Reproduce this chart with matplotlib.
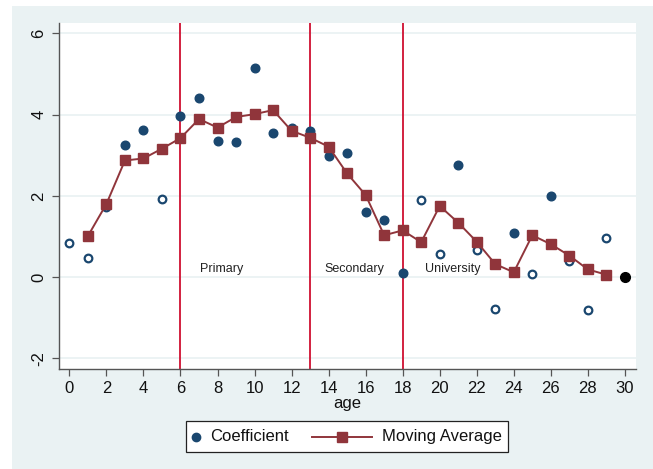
import matplotlib
matplotlib.use("Agg")
import matplotlib.pyplot as plt
from matplotlib.patches import Rectangle
from matplotlib.lines import Line2D
import numpy as np

plt.rcParams['font.family'] = ['Liberation Sans', 'DejaVu Sans']

# Data
ages = list(range(0, 30))
coef = [0.83, 0.46, 1.72, 3.25, 3.63, 1.92, 3.97, 4.41, 3.35, 3.32,
        5.14, 3.55, 3.68, 3.60, 2.99, 3.05, 1.61, 1.41, 0.11, 1.91,
        0.58, 2.77, 0.68, -0.78, 1.08, 0.07, 1.99, 0.40, -0.80, 0.97]
significant = [False, False, False, True, True, False, True, True, True, True,
               True, True, True, True, True, True, True, True, True, False,
               False, True, False, False, True, False, True, False, False, False]
ref_age = [30]
ref_coef = [0.0]
ma_ages = list(range(1, 30))
ma = [1.01, 1.80, 2.87, 2.92, 3.16, 3.42, 3.89, 3.68, 3.94, 4.01,
      4.11, 3.60, 3.43, 3.21, 2.55, 2.02, 1.03, 1.15, 0.86, 1.75,
      1.34, 0.87, 0.32, 0.12, 1.03, 0.81, 0.53, 0.19, 0.06]
cutoffs = [6, 13, 18]
stage_labels = ["Primary", "Secondary", "University"]
stage_x = [7.05, 13.75, 19.2]
stage_y = [0.05, 0.05, 0.05]
xticks = list(range(0, 31, 2))
yticks = [-2, 0, 2, 4, 6]
legend_labels = ['Coefficient', 'Moving Average']

navy = '#1A476F'
maroon = '#90353B'
redline = '#D2203F'
bg = '#EAF2F3'

W, H = 653, 469
fig = plt.figure(figsize=(W / 100, H / 100), dpi=100)
fig.patch.set_facecolor('white')
fig.patches.append(Rectangle((12 / W, 0), 1 - 12 / W, 1 - 6 / H,
                             transform=fig.transFigure, facecolor=bg,
                             edgecolor='none', zorder=-10))

ax = fig.add_axes([59 / W, 1 - 369 / H, (636 - 59) / W, (369 - 22.7) / H])
ax.set_facecolor('white')
ax.set_xlim(-0.56, 30.6)
ax.set_ylim(-2.26, 6.26)

for yt in yticks:
    ax.axhline(yt, color=bg, lw=1.3, zorder=0)

for c in cutoffs:
    ax.axvline(c, color=redline, lw=1.4, zorder=1)

a = np.array(ages)
cf = np.array(coef)
sg = np.array(significant)
ax.plot(a[sg], cf[sg], 'o', color=navy, ms=6.2, mec=navy, zorder=3)
ax.plot(a[~sg], cf[~sg], 'o', mfc='white', mec=navy, mew=1.6, ms=5.5, zorder=3)
ax.plot(ref_age, ref_coef, 'o', color='black', ms=7, zorder=3)
ax.plot(ma_ages, ma, '-s', color=maroon, lw=1.4, ms=7, mec=maroon, zorder=4)

for lab, x, y in zip(stage_labels, stage_x, stage_y):
    ax.text(x, y, lab, fontsize=9, ha='left', va='bottom', color='#222222', zorder=5)

ax.set_xticks(xticks)
ax.set_yticks(yticks)
ax.set_yticklabels([str(v) for v in yticks], rotation=90, va='center')
ax.tick_params(axis='both', labelsize=12, length=5, width=0.9, color='#555555', labelcolor='#111111')
ax.tick_params(axis='y', pad=4)
for s in ['top', 'right']:
    ax.spines[s].set_visible(False)
for s in ['left', 'bottom']:
    ax.spines[s].set_color('#555555')
    ax.spines[s].set_linewidth(1.0)
ax.set_xlabel('age', fontsize=12, labelpad=0, color='#111111')

# Legend (drawn in figure pixel coordinates, Stata style)
def fx(px):
    return px / W

def fy(py):
    return 1 - py / H

ly = 436.5
fig.patches.append(Rectangle((fx(186), fy(452)), fx(508) - fx(186), fy(421) - fy(452),
                             transform=fig.transFigure, facecolor='white',
                             edgecolor='#222222', lw=0.9, zorder=5))
fig.lines.append(Line2D([fx(196)], [fy(ly)], transform=fig.transFigure, ls='none',
                        marker='o', color=navy, ms=6, zorder=6))
fig.text(fx(210), fy(ly), legend_labels[0], fontsize=12, va='center', ha='left',
         color='#111111', zorder=6)
fig.lines.append(Line2D([fx(312), fx(372)], [fy(ly), fy(ly)], transform=fig.transFigure,
                        color=maroon, lw=1.4, zorder=6))
fig.lines.append(Line2D([fx(342)], [fy(ly)], transform=fig.transFigure, ls='none',
                        marker='s', color=maroon, ms=7, zorder=6))
fig.text(fx(382), fy(ly), legend_labels[1], fontsize=12, va='center', ha='left',
         color='#111111', zorder=6)

fig.savefig('out.png', dpi=100, facecolor=fig.get_facecolor())
